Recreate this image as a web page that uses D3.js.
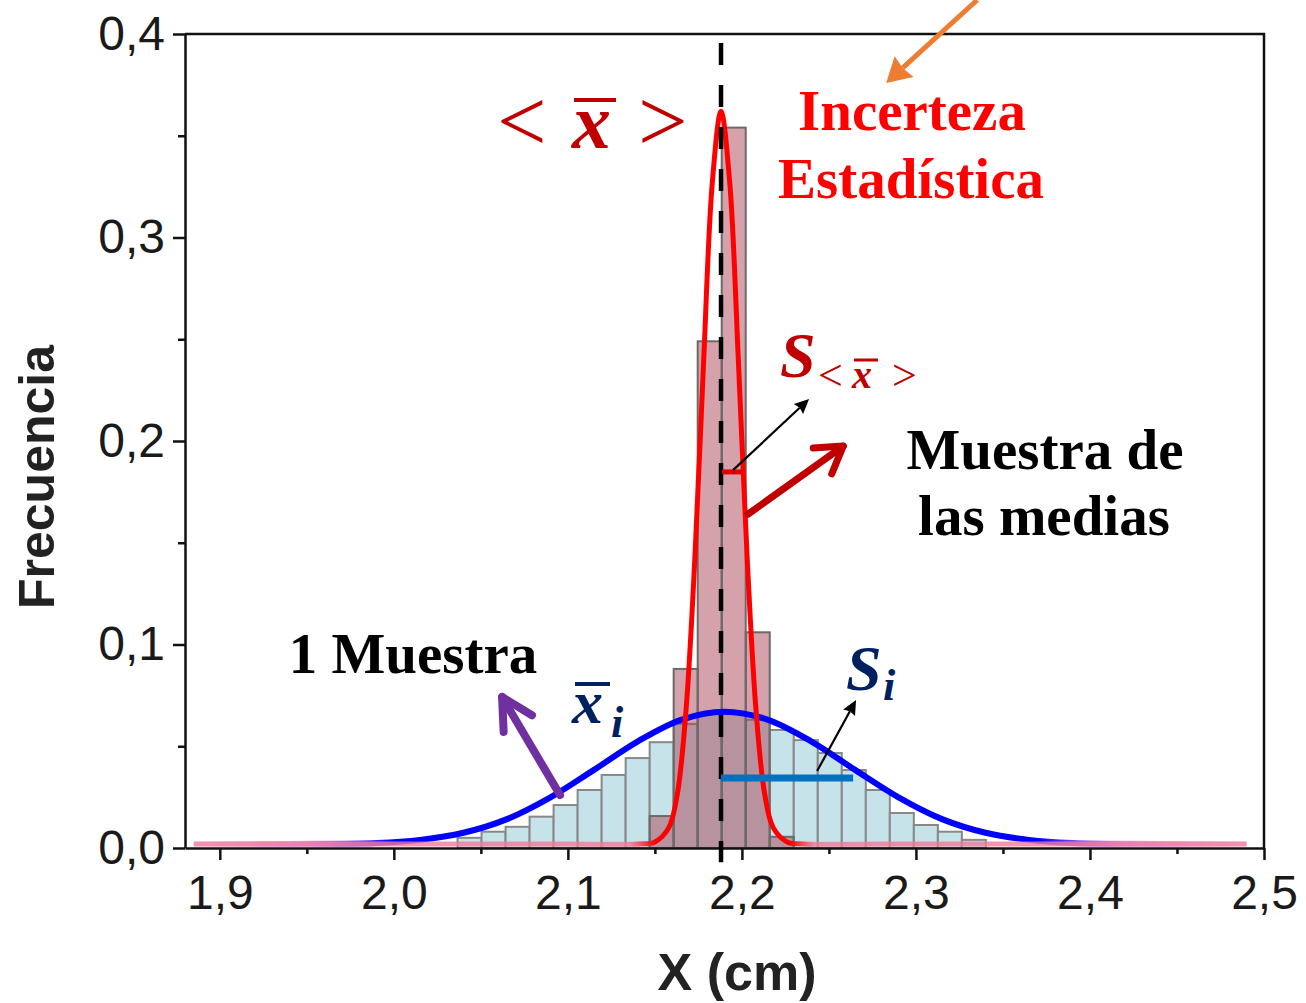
<!DOCTYPE html>
<html>
<head>
<meta charset="utf-8">
<script src="https://cdn.jsdelivr.net/npm/d3@7"></script>
<style>
  body { margin: 0; background: #fff; }
</style>
</head>
<body>
<div id="chart"></div>
<script>
// ---- data ----
var xTicks = [1.9, 2.0, 2.1, 2.2, 2.3, 2.4, 2.5]
var xTickLabels = ["1,9", "2,0", "2,1", "2,2", "2,3", "2,4", "2,5"]
var xMinor = [1.95, 2.05, 2.15, 2.25, 2.35, 2.45]
var yTicks = [0, 0.1, 0.2, 0.3, 0.4]
var yTickLabels = ["0,0", "0,1", "0,2", "0,3", "0,4"]
var yMinor = [0.05, 0.15, 0.25, 0.35]

var binWidth = 0.0138
// one sample histogram (light blue)
var binLeft = [2.0366, 2.0504, 2.0642, 2.0780, 2.0918, 2.1056, 2.1194, 2.1332, 2.1470, 2.1608, 2.1746,
               2.1884, 2.2022, 2.2160, 2.2298, 2.2436, 2.2574, 2.2712, 2.2850, 2.2988, 2.3126, 2.3264]
var sampleFreq = [0.005, 0.008, 0.0104, 0.0154, 0.0211, 0.0285, 0.0359, 0.0442, 0.052, 0.061, 0.066,
                  0.066, 0.063, 0.058, 0.053, 0.0467, 0.0383, 0.0285, 0.0172, 0.0113, 0.008, 0.004]
// sample of the means histogram (pink)
var meansLeft = [2.1470, 2.1608, 2.1746, 2.1884, 2.2022, 2.2160]
var meansFreq = [0.0157, 0.088, 0.249, 0.354, 0.106, 0.0055]

// fitted curves, points
var blueCurveX = [1.885, 1.94, 1.99, 2.015, 2.04, 2.065, 2.09, 2.115, 2.14, 2.165, 2.19,
                  2.215, 2.24, 2.265, 2.29, 2.315, 2.34, 2.365, 2.39, 2.44, 2.49]
var blueCurveY = [0.002, 0.002, 0.0025, 0.004, 0.0075, 0.0142, 0.0249, 0.0384, 0.0523, 0.063, 0.067,
                  0.063, 0.0523, 0.0384, 0.0249, 0.0142, 0.0075, 0.004, 0.0025, 0.002, 0.002]
var redCurveX = [1.885, 2.10, 2.140, 2.150, 2.158, 2.163, 2.168, 2.173, 2.178, 2.183, 2.188,
                 2.193, 2.198, 2.203, 2.208, 2.213, 2.218, 2.226, 2.236, 2.28, 2.49]
var redCurveY = [0.002, 0.002, 0.002, 0.003, 0.010, 0.027, 0.069, 0.143, 0.239, 0.327, 0.362,
                 0.327, 0.239, 0.143, 0.069, 0.027, 0.010, 0.003, 0.002, 0.002, 0.002]

var grandMean = 2.188
var sampleSd = [2.188, 2.2639]      // S_i bar, drawn at y = 0.0344
var meanSdMark = [2.1886, 2.2007]   // S_<x> mark, drawn at y = 0.1848

var W = 1306, H = 1003
var svg = d3.select("#chart").append("svg")
  .attr("width", W).attr("height", H)
  .style("font-family", "'Liberation Sans', Arial, sans-serif")

var x = d3.scaleLinear().domain([1.88, 2.5]).range([185, 1264])
var y = d3.scaleLinear().domain([0, 0.4]).range([848, 34])

var defs = svg.append("defs")

// red curve: pink tails, red peak
var rg = defs.append("linearGradient").attr("id", "redGrad")
  .attr("gradientUnits", "userSpaceOnUse")
  .attr("x1", x(1.88)).attr("x2", x(2.5)).attr("y1", 0).attr("y2", 0)
function off(v) { return ((v - 1.88) / 0.62 * 100) + "%" }
;[[1.88, "#f27a9a", 0.8], [2.135, "#f27a9a", 0.8], [2.150, "#ff0000", 1], [2.228, "#ff0000", 1],
  [2.242, "#f27a9a", 0.8], [2.5, "#f27a9a", 0.8]].forEach(function(s) {
  rg.append("stop").attr("offset", off(s[0])).attr("stop-color", s[1]).attr("stop-opacity", s[2])
})
var bg = defs.append("linearGradient").attr("id", "blueGrad")
  .attr("gradientUnits", "userSpaceOnUse")
  .attr("x1", x(1.88)).attr("x2", x(2.5)).attr("y1", 0).attr("y2", 0)
;[[1.88, "#b030e0", 0], [1.95, "#b030e0", 0.5], [2.0, "#0000ff", 1], [2.37, "#0000ff", 1],
  [2.42, "#b030e0", 0.5], [2.5, "#b030e0", 0]].forEach(function(s) {
  bg.append("stop").attr("offset", off(s[0])).attr("stop-color", s[1]).attr("stop-opacity", s[2])
})

// ---- bars ----
svg.append("g").selectAll("rect")
  .data(binLeft)
  .enter().append("rect")
  .attr("x", function(d) { return x(d) })
  .attr("width", function(d) { return x(d + binWidth) - x(d) })
  .attr("y", function(d, i) { return y(sampleFreq[i]) })
  .attr("height", function(d, i) { return y(0) - y(sampleFreq[i]) })
  .attr("fill", "#c6e3ea")
  .attr("stroke", "#888")
  .attr("stroke-width", 2)

svg.append("g").selectAll("rect")
  .data(meansLeft)
  .enter().append("rect")
  .attr("x", function(d) { return x(d) })
  .attr("width", function(d) { return x(d + binWidth) - x(d) })
  .attr("y", function(d, i) { return y(meansFreq[i]) })
  .attr("height", function(d, i) { return y(0) - y(meansFreq[i]) })
  .attr("fill", "rgb(165,55,75)")
  .attr("fill-opacity", 0.47)
  .attr("stroke", "#6a6a6a")
  .attr("stroke-width", 2)

// ---- curves ----
var line = d3.line()
  .x(function(d) { return x(d[0]) })
  .y(function(d) { return y(d[1]) })
  .curve(d3.curveCatmullRom.alpha(0.5))

svg.append("path")
  .datum(d3.zip(blueCurveX, blueCurveY))
  .attr("d", line)
  .attr("fill", "none")
  .attr("stroke", "url(#blueGrad)")
  .attr("stroke-width", 6)

svg.append("path")
  .datum(d3.zip(redCurveX, redCurveY))
  .attr("d", line)
  .attr("fill", "none")
  .attr("stroke", "url(#redGrad)")
  .attr("stroke-width", 5)

// ---- axes ----
function styleAxis(g) {
  g.selectAll("path, line").attr("stroke", "#111").attr("stroke-width", 2.5)
  g.selectAll("text").attr("font-size", 48).attr("fill", "#1a1a1a")
    .attr("font-family", "'Liberation Sans', Arial, sans-serif")
}
svg.append("g").attr("transform", "translate(0," + y(0) + ")")
  .call(d3.axisBottom(x).tickValues(xTicks).tickSize(12).tickSizeOuter(0).tickPadding(15)
    .tickFormat(function(d, i) { return xTickLabels[i] }))
  .call(styleAxis)
svg.append("g").attr("transform", "translate(0," + y(0) + ")")
  .call(d3.axisBottom(x).tickValues(xMinor).tickSize(6).tickFormat(""))
  .call(function(g) { g.select(".domain").remove() })
  .call(styleAxis)
svg.append("g").attr("transform", "translate(" + x(1.88) + ",0)")
  .call(d3.axisLeft(y).tickValues(yTicks).tickSize(12).tickSizeOuter(0).tickPadding(8)
    .tickFormat(function(d, i) { return yTickLabels[i] }))
  .call(styleAxis)
svg.append("g").attr("transform", "translate(" + x(1.88) + ",0)")
  .call(d3.axisLeft(y).tickValues(yMinor).tickSize(7).tickFormat(""))
  .call(function(g) { g.select(".domain").remove() })
  .call(styleAxis)

// frame
svg.append("path")
  .attr("d", "M" + x(1.88) + "," + y(0.4) + "H" + x(2.5) + "V" + y(0))
  .attr("fill", "none").attr("stroke", "#111").attr("stroke-width", 2.5)

// axis titles
svg.append("text")
  .attr("transform", "translate(54," + 477 + ") rotate(-90)")
  .attr("text-anchor", "middle")
  .attr("font-size", 50).attr("font-weight", "bold").attr("fill", "#222")
  .text("Frecuencia")
svg.append("text")
  .attr("x", 737).attr("y", 990)
  .attr("text-anchor", "middle")
  .attr("font-size", 52).attr("font-weight", "bold").attr("fill", "#222")
  .text("X (cm)")

// ---- annotations ----
// mean of the means, dashed
svg.append("line")
  .attr("x1", x(grandMean)).attr("x2", x(grandMean))
  .attr("y1", y(0.3956)).attr("y2", y(-0.007))
  .attr("stroke", "#000").attr("stroke-width", 4.5)
  .attr("stroke-dasharray", "22,20")

svg.append("line")
  .attr("x1", x(sampleSd[0])).attr("x2", x(sampleSd[1]))
  .attr("y1", y(0.0344)).attr("y2", y(0.0344))
  .attr("stroke", "#0070c0").attr("stroke-width", 7)

svg.append("line")
  .attr("x1", x(meanSdMark[0])).attr("x2", x(meanSdMark[1]))
  .attr("y1", y(0.1848)).attr("y2", y(0.1848))
  .attr("stroke", "#e00000").attr("stroke-width", 5)

function arrow(x1, y1, x2, y2, color, width, type, len, ang) {
  var X1 = x(x1), Y1 = y(y1), X2 = x(x2), Y2 = y(y2)
  var t = Math.atan2(Y1 - Y2, X1 - X2)
  var a = ang * Math.PI / 180
  var w1 = [X2 + len * Math.cos(t - a), Y2 + len * Math.sin(t - a)]
  var w2 = [X2 + len * Math.cos(t + a), Y2 + len * Math.sin(t + a)]
  if (type == "open") {
    svg.append("line").attr("x1", X1).attr("y1", Y1).attr("x2", X2).attr("y2", Y2)
      .attr("stroke", color).attr("stroke-width", width).attr("stroke-linecap", "round")
    svg.append("path")
      .attr("d", "M" + w1 + "L" + X2 + "," + Y2 + "L" + w2)
      .attr("fill", "none").attr("stroke", color).attr("stroke-width", width)
      .attr("stroke-linecap", "round").attr("stroke-linejoin", "round")
  } else {
    var back = len * 0.8
    svg.append("line").attr("x1", X1).attr("y1", Y1)
      .attr("x2", X2 + back * Math.cos(t)).attr("y2", Y2 + back * Math.sin(t))
      .attr("stroke", color).attr("stroke-width", width)
    svg.append("path")
      .attr("d", "M" + X2 + "," + Y2 + "L" + w1 + "L" + (X2 + back * Math.cos(t)) + "," + (Y2 + back * Math.sin(t)) + "L" + w2 + "Z")
      .attr("fill", color)
  }
}

arrow(2.3352, 0.4167, 2.2829, 0.3759, "#ed7d31", 5, "filled", 28, 30)
arrow(2.0955, 0.0260, 2.0622, 0.0742, "#7030a0", 8, "open", 35, 28)
arrow(2.2036, 0.1641, 2.2582, 0.1975, "#c00000", 7, "open", 30, 32)
arrow(2.1949, 0.1857, 2.2386, 0.2206, "#000", 2.2, "filled", 16, 25)
arrow(2.2432, 0.0378, 2.2656, 0.0727, "#000", 2.2, "filled", 16, 25)

var serif = "'Liberation Serif', 'Times New Roman', serif"
function txt(px, py, s, size, color, opts) {
  opts = opts || {}
  return svg.append("text").attr("x", px).attr("y", py)
    .attr("font-family", serif).attr("font-size", size).attr("fill", color)
    .attr("font-weight", opts.weight || "normal")
    .attr("font-style", opts.style || "normal")
    .attr("text-anchor", opts.anchor || "start")
    .text(s)
}
function bar(x1, x2, py, color, w) {
  svg.append("line").attr("x1", x1).attr("x2", x2).attr("y1", py).attr("y2", py)
    .attr("stroke", color).attr("stroke-width", w)
}

txt(912, 130, "Incerteza", 57, "#ff0000", { weight: "bold", anchor: "middle" })
txt(911, 198, "Estadística", 57, "#ff0000", { weight: "bold", anchor: "middle" })
txt(1045, 469, "Muestra de", 57, "#000", { weight: "bold", anchor: "middle" })
txt(1044, 535, "las medias", 57, "#000", { weight: "bold", anchor: "middle" })
txt(413, 673, "1 Muestra", 57, "#000", { weight: "bold", anchor: "middle" })

// < x̄ >
var dr = "#c00000"
txt(497, 151, "<", 88, dr)
txt(572, 148, "x", 78, dr, { weight: "bold", style: "italic" })
bar(574, 616, 100, dr, 4)
txt(638, 151, ">", 88, dr)

// S_<x̄>
txt(780, 377, "S", 64, dr, { weight: "bold", style: "italic" })
txt(818, 390, "<", 44, dr)
txt(852, 388, "x", 40, dr, { weight: "bold", style: "italic" })
bar(854, 878, 360, dr, 3)
txt(892, 390, ">", 44, dr)

// x̄_i
var nv = "#002060"
txt(572, 723, "x", 62, nv, { weight: "bold", style: "italic" })
bar(575, 610, 684, nv, 4)
txt(611, 737, "i", 44, nv, { weight: "bold", style: "italic" })

// S_i
txt(846, 690, "S", 64, nv, { weight: "bold", style: "italic" })
txt(883, 700, "i", 44, nv, { weight: "bold", style: "italic" })
</script>
</body>
</html>
